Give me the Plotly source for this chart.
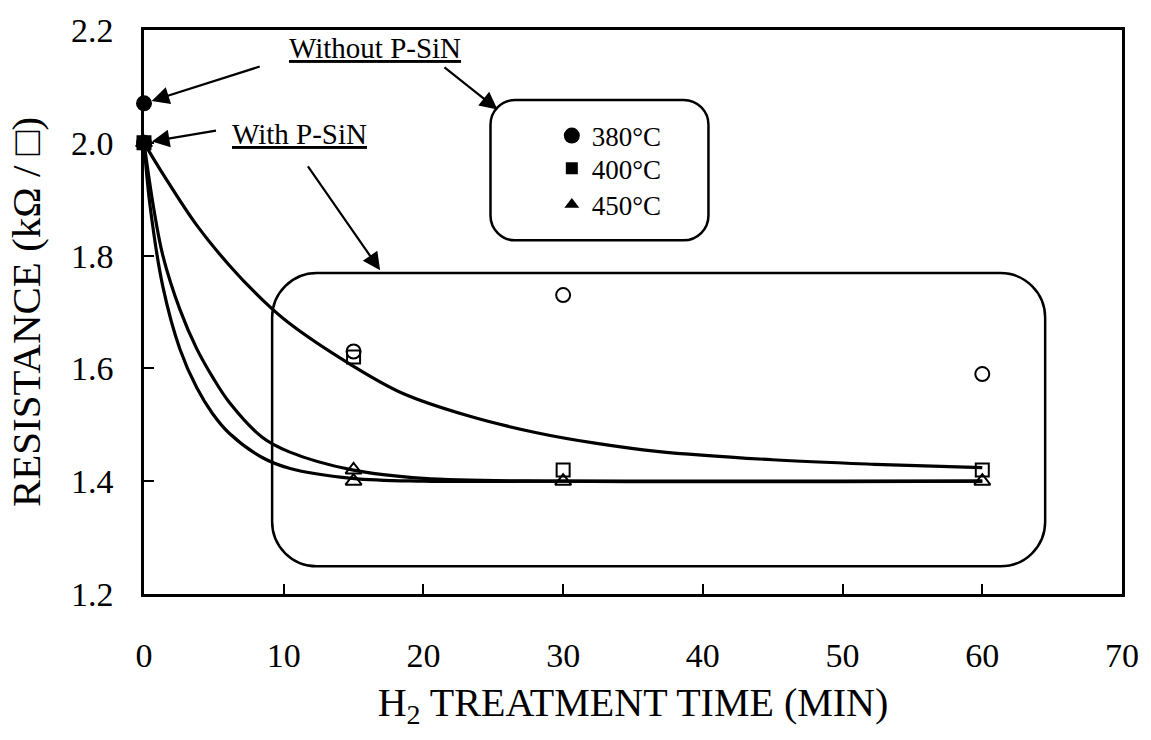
import plotly.graph_objects as go

FONT = "Liberation Serif"

# ---------------- data ----------------
time_min = [0, 15, 30, 60]

# With P-SiN (open markers)
r380_with = [2.00, 1.63, 1.73, 1.59]
r400_with = [2.00, 1.62, 1.42, 1.42]
r450_with = [2.00, 1.40, 1.40, 1.40]
extra_450_x = [15]
extra_450_y = [1.42]

# Without P-SiN (filled markers)
time_without = [0]
r380_without = [2.07]
r400_without = [2.00]
r450_without = [2.00]

# smooth fitted curves
curve_a_x = [0, 1.35, 3.77, 6.1, 8.46, 10.4, 14.85, 18.5, 23.2, 28.1, 32.4, 36.7, 45, 52.3, 60]
curve_a_y = [2.00, 1.945, 1.854, 1.783, 1.722, 1.680, 1.606, 1.556, 1.516, 1.486, 1.467, 1.453, 1.438, 1.430, 1.424]

curve_b_x = [0, 0.66, 1.35, 2.56, 3.77, 4.9, 6.1, 8.46, 10.4, 14.9, 20, 30, 60]
curve_b_y = [2.00, 1.889, 1.80, 1.705, 1.635, 1.585, 1.540, 1.478, 1.452, 1.42, 1.405, 1.40, 1.40]

curve_c_x = [0, 0.43, 1.35, 2.56, 3.77, 4.9, 6.1, 8.46, 10.4, 14.9, 20, 30, 60]
curve_c_y = [2.00, 1.889, 1.745, 1.635, 1.566, 1.520, 1.485, 1.442, 1.423, 1.405, 1.40, 1.40, 1.40]

legend_names = ["380°C", "400°C", "450°C"]
x_ticks = [0, 10, 20, 30, 40, 50, 60, 70]
y_ticks = [1.2, 1.4, 1.6, 1.8, 2.0, 2.2]

# ---------------- figure ----------------
fig = go.Figure()

for cx, cy in [(curve_a_x, curve_a_y), (curve_b_x, curve_b_y), (curve_c_x, curve_c_y)]:
    fig.add_trace(go.Scatter(x=cx, y=cy, mode="lines",
                             line=dict(color="black", width=3.2, shape="spline", smoothing=1.0),
                             showlegend=False, hoverinfo="skip"))

open_line = dict(color="black", width=2)
fig.add_trace(go.Scatter(x=time_min, y=r380_with, mode="markers", cliponaxis=False, showlegend=False,
                         marker=dict(symbol="circle-open", size=14, color="black", line=open_line)))
fig.add_trace(go.Scatter(x=time_min, y=r400_with, mode="markers", cliponaxis=False, showlegend=False,
                         marker=dict(symbol="square-open", size=13, color="black", line=open_line)))
fig.add_trace(go.Scatter(x=time_min, y=r450_with, mode="markers", cliponaxis=False, showlegend=False,
                         marker=dict(symbol="triangle-up-open", size=14, color="black", line=open_line)))
fig.add_trace(go.Scatter(x=extra_450_x, y=extra_450_y, mode="markers", cliponaxis=False, showlegend=False,
                         marker=dict(symbol="triangle-up-open", size=14, color="black", line=open_line)))

filled = [(r380_without, "circle", 16, "legend"),
          (r400_without, "square", 12, "legend2"),
          (r450_without, "triangle-up", 13, "legend3")]
for (vals, sym, sz, lg), name in zip(filled, legend_names):
    fig.add_trace(go.Scatter(x=time_without, y=vals, mode="markers", cliponaxis=False, name=name,
                             legend=lg, marker=dict(symbol=sym, size=sz, color="black")))

# ---------------- rounded boxes ----------------
def rounded_rect(x0, x1, y0, y1, rx, ry):
    k = 0.5523
    p = [f"M {x0+rx},{y1}", f"L {x1-rx},{y1}",
         f"C {x1-rx+k*rx},{y1} {x1},{y1-ry+k*ry} {x1},{y1-ry}",
         f"L {x1},{y0+ry}",
         f"C {x1},{y0+ry-k*ry} {x1-rx+k*rx},{y0} {x1-rx},{y0}",
         f"L {x0+rx},{y0}",
         f"C {x0+rx-k*rx},{y0} {x0},{y0+ry-k*ry} {x0},{y0+ry}",
         f"L {x0},{y1-ry}",
         f"C {x0},{y1-ry+k*ry} {x0+rx-k*rx},{y1} {x0+rx},{y1}", "Z"]
    return " ".join(p)

shapes = [
    dict(type="path", xref="x", yref="y", path=rounded_rect(24.8, 40.4, 1.827, 2.076, 1.78, 0.044),
         line=dict(color="black", width=2.5)),
    dict(type="path", xref="x", yref="y", path=rounded_rect(9.17, 64.5, 1.249, 1.769, 3.2, 0.079),
         line=dict(color="black", width=2.5)),
]

# ---------------- annotations ----------------
arrow = dict(showarrow=True, arrowhead=2, arrowsize=1.6, arrowwidth=2.2, arrowcolor="black",
             axref="x", ayref="y", xref="x", yref="y", text="")
annotations = [
    dict(x=16.55, y=2.168, xref="x", yref="y", text="<u>Without P-SiN</u>", showarrow=False,
         font=dict(family=FONT, size=29, color="black")),
    dict(x=11.1, y=2.015, xref="x", yref="y", text="<u>With P-SiN</u>", showarrow=False,
         font=dict(family=FONT, size=29, color="black")),
    dict(arrow, x=0, y=2.07, ax=8.39, ay=2.136, standoff=8),
    dict(arrow, x=25.3, y=2.059, ax=21.4, ay=2.136),
    dict(arrow, x=0, y=2.0, ax=5.26, ay=2.022, standoff=8),
    dict(arrow, x=16.9, y=1.774, ax=11.66, ay=1.961),
]

leg_common = dict(font=dict(family=FONT, size=27, color="black"), bgcolor="rgba(0,0,0,0)",
                  xanchor="left", yanchor="middle", borderwidth=0, itemsizing="trace")
fig.update_layout(
    width=1151, height=740,
    margin=dict(l=144, r=22, t=27, b=146),
    paper_bgcolor="white", plot_bgcolor="white",
    shapes=shapes, annotations=annotations,
    legend=dict(leg_common, x=0.417, y=0.812),
    legend2=dict(leg_common, x=0.417, y=0.754),
    legend3=dict(leg_common, x=0.417, y=0.690),
    xaxis=dict(range=[0, 70], tickvals=x_ticks, ticks="inside", ticklen=10, tickwidth=2,
               tickcolor="black", showline=True, linecolor="black", linewidth=2.5, mirror=True,
               showgrid=False, zeroline=False, ticklabelstandoff=29,
               tickfont=dict(family=FONT, size=34, color="black"),
               title=dict(text="H<sub>2</sub> TREATMENT TIME (MIN)", standoff=16,
                          font=dict(family=FONT, size=40, color="black"))),
    yaxis=dict(range=[1.2, 2.2], tickvals=y_ticks, tickformat=".1f", ticks="inside", ticklen=10,
               tickwidth=2, tickcolor="black", showline=True, linecolor="black", linewidth=2.5,
               mirror=True, showgrid=False, zeroline=False, ticklabelstandoff=21,
               tickfont=dict(family=FONT, size=34, color="black"),
               title=dict(text="RESISTANCE (kΩ / □)", standoff=18,
                          font=dict(family=FONT, size=41, color="black"))),
)

fig.write_html("out.html")
